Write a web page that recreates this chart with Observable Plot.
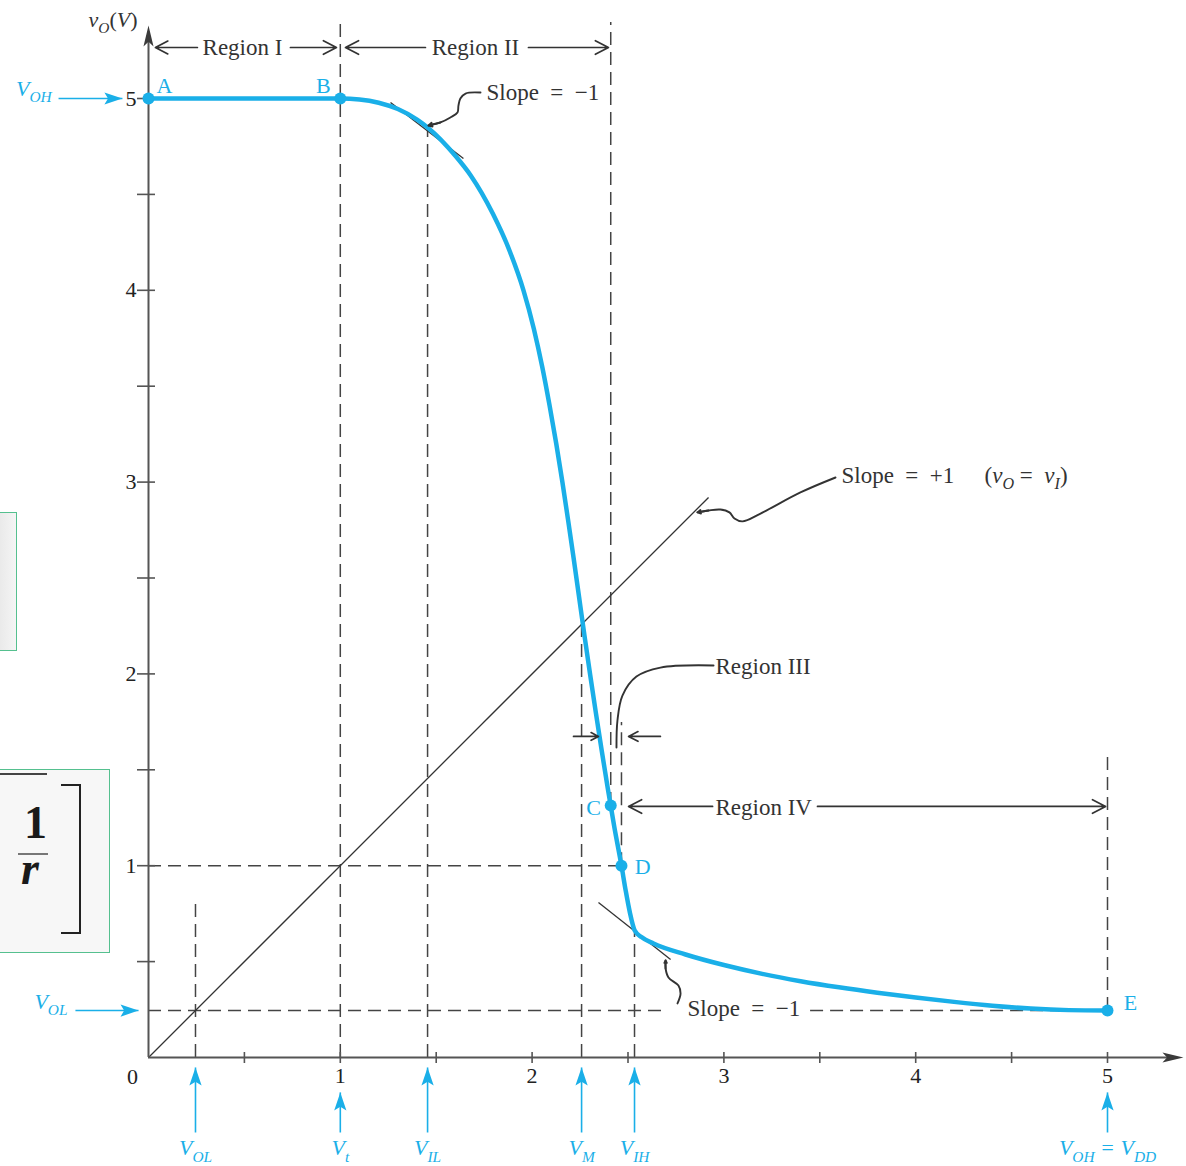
<!DOCTYPE html>
<html><head><meta charset="utf-8">
<script src="https://cdn.jsdelivr.net/npm/d3@7"></script>
<script src="https://cdn.jsdelivr.net/npm/@observablehq/plot@0.6"></script>
<style>
html,body{margin:0;padding:0;background:#fff;}
#wrap{position:relative;width:1186px;height:1166px;overflow:hidden;}
.scrap{position:absolute;border:1.5px solid #55c08f;box-sizing:border-box;}
.scrap div{position:absolute;}
</style></head><body>
<div id="wrap">
  <div id="chart"></div>
  <div class="scrap" style="left:-2px;top:512px;width:19px;height:139px;background:linear-gradient(90deg,#e9e9e9,#f5f5f5);"></div>
  <div class="scrap" style="left:-2px;top:769px;width:112px;height:184px;background:#f7f7f7;">
    <div style="left:0;top:3px;width:48px;height:2px;background:#444"></div>
    <div style="left:25px;top:30px;font:bold 46px/46px 'Liberation Serif';color:#1a1a1a">1</div>
    <div style="left:19px;top:83px;width:30px;height:1.5px;background:#777"></div>
    <div style="left:22px;top:76px;font:italic bold 46px/46px 'Liberation Serif';color:#1a1a1a">r</div>
    <div style="left:62px;top:14px;width:20px;height:150px;border:2.5px solid #222;border-left:none;box-sizing:border-box"></div>
  </div>
</div>
<script>
// ---------- data (volts) ----------
const vI = [0, 1, 1.1, 1.2, 1.3, 1.4, 1.455, 1.601, 1.679, 1.795, 1.885, 1.955, 2.009, 2.053, 2.091, 2.126, 2.158, 2.188, 2.217, 2.245, 2.273, 2.302, 2.332, 2.363, 2.395, 2.429, 2.466, 2.488, 2.51, 2.535, 2.57, 2.633, 2.8, 3.0, 3.2, 3.4, 3.6, 3.8, 4.0, 4.2, 4.4, 4.6, 4.8, 5];
const vO = [5, 5, 4.995, 4.978, 4.945, 4.890, 4.849, 4.7, 4.6, 4.4, 4.2, 4.0, 3.8, 3.6, 3.4, 3.2, 3.0, 2.8, 2.6, 2.4, 2.2, 2.0, 1.8, 1.6, 1.4, 1.2, 1.0, 0.87, 0.755, 0.662, 0.628, 0.594, 0.537, 0.482, 0.436, 0.398, 0.366, 0.338, 0.313, 0.290, 0.270, 0.255, 0.247, 0.245];

const pointNames = ["A", "B", "C", "D", "E"];
const pointVI = [0, 1, 2.41, 2.466, 5];
const pointVO = [5, 5, 1.314, 1, 0.245];
const pointLabelX = [0.083, 0.912, 2.320, 2.576, 5.120];
const pointLabelY = [5.063, 5.063, 1.303, 0.996, 0.282];

const xTicks = [0.5, 1, 1.5, 2, 2.5, 3, 3.5, 4, 4.5, 5];
const yTicks = [0.5, 1, 1.5, 2, 2.5, 3, 3.5, 4, 4.5, 5];

const keyNames = ["V_{OL}", "V_{t}", "V_{IL}", "V_{M}", "V_{IH}", "V_{OH} = V_{DD}"];
const keyValues = [0.245, 1, 1.455, 2.258, 2.534, 5];
const keyTipY = [-0.052, -0.182, -0.052, -0.052, -0.052, -0.182];
const keyTailY = -0.391;
const keyLabelY = -0.474;

const levelNames = ["V_{OH}", "V_{OL}"];
const levelValues = [5, 0.245];
const levelTail = [-0.469, -0.381];
const levelTip = [-0.136, -0.052];
const levelLabelX = [-0.505, -0.422];
const levelLabelY = [5.052, 0.292];

// dashed guides
const guideX = [0.245, 1, 1.455, 2.258, 2.41, 2.466, 2.534, 5];
const guideXFrom = [0, 0, 0, 0, 1.314, 1, 0, 0.245];
const guideXTo = [0.803, 5.396, 4.849, 2.258, 5.396, 1.747, 0.650, 1.590];
const guideY = [1, 0.245, 0.245];
const guideYFrom = [0, 0, 3.452];
const guideYTo = [2.466, 2.706, 4.8];

// thin reference lines: vO = vI and the two slope = -1 tangents
const refX1 = [0, 1.262, 2.346];
const refY1 = [0, 4.979, 0.808];
const refX2 = [2.92, 1.642, 2.722];
const refY2 = [2.92, 4.687, 0.511];

// region arrows
const regionArrowX1 = [0.255, 0.740, 1.444, 1.981, 2.216, 2.669, 2.941, 3.488];
const regionArrowX2 = [0.036, 0.980, 1.027, 2.398, 2.346, 2.503, 2.503, 4.990];
const regionArrowY = [5.266, 5.266, 5.266, 5.266, 1.674, 1.674, 1.309, 1.309];

// annotation texts
const centerNotes = ["Region I", "Region II"];
const centerNoteX = [0.490, 1.705];
const centerNoteY = [5.266, 5.266];
const startNotes = ["Slope\u00A0\u00A0=\u00A0\u00A0\u22121", "Slope\u00A0\u00A0=\u00A0\u00A0+1", "(/{v}_{O}\u00A0=\u00A0\u00A0/{v}_{I})", "Region III", "Region IV", "Slope\u00A0\u00A0=\u00A0\u00A0\u22121"];
const startNoteX = [1.762, 3.613, 4.359, 2.956, 2.956, 2.810];
const startNoteY = [5.031, 3.034, 3.034, 2.039, 1.303, 0.255];

// curly leader lines [vI, vO]
const leaderTop = [[1.731, 5.031], [1.653, 5.026], [1.626, 5.000], [1.616, 4.963], [1.611, 4.927], [1.574, 4.901], [1.522, 4.875], [1.460, 4.859]];
const leaderUnity = [[3.582, 3.024], [3.399, 2.946], [3.191, 2.836], [3.097, 2.795], [3.055, 2.810], [3.029, 2.842], [2.982, 2.857], [2.920, 2.852], [2.862, 2.842]];
const leaderRegion3 = [[2.946, 2.044], [2.669, 2.033], [2.544, 1.986], [2.471, 1.887], [2.445, 1.757], [2.440, 1.616]];
const leaderBottom = [[2.758, 0.282], [2.774, 0.334], [2.763, 0.375], [2.711, 0.417], [2.696, 0.464], [2.696, 0.506]];

const axisEndX = 5.396, axisEndY = 5.381;

// ---------- drawing ----------
const px = 1 / 191.8;
const BLUE = "#1aafe8", INK = "#333333", AXIS = "#555555", DASH = "#444444";
const FONT = "'Liberation Serif', 'Times New Roman', serif";

const headSymbol = (ratio, notch) => ({
  draw(ctx, size) {
    const L = Math.sqrt(size / Math.PI), W = L * ratio;
    ctx.moveTo(0, 0); ctx.lineTo(W, L); ctx.lineTo(0, L * notch); ctx.lineTo(-W, L); ctx.closePath();
  }
});

const curve = vI.map((x, i) => ({x, y: vO[i]}));
const points = pointNames.map((n, i) => ({n, x: pointVI[i], y: pointVO[i], lx: pointLabelX[i], ly: pointLabelY[i]}));
const guidesV = guideX.map((x, i) => ({x, y1: guideXFrom[i], y2: guideXTo[i]}));
const guidesH = guideY.map((y, i) => ({y, x1: guideYFrom[i], x2: guideYTo[i]}));
const refs = refX1.map((x1, i) => ({x1, y1: refY1[i], x2: refX2[i], y2: refY2[i]}));
const regionArrows = regionArrowX1.map((x1, i) => ({x1, x2: regionArrowX2[i], y: regionArrowY[i]}));
const leaders = [leaderTop, leaderUnity, leaderRegion3, leaderBottom]
  .flatMap((L, k) => L.map(([x, y]) => ({k, x, y})));
const leaderHeads = [leaderTop, leaderUnity, leaderBottom].map(L => {
  const a = L[L.length - 2], b = L[L.length - 1];
  return {x1: a[0], y1: a[1], x2: b[0], y2: b[1]};
});
const blueArrows = [
  ...keyValues.map((v, i) => ({x1: v, y1: keyTailY, x2: v, y2: keyTipY[i], rot: 0})),
  ...levelValues.map((v, i) => ({x1: levelTail[i], y1: v, x2: levelTip[i], y2: v, rot: 90}))
];
const axisHeads = [{x: axisEndX, y: 0, rot: 90}, {x: 0, y: axisEndY, rot: 0}];

const chart = Plot.plot({
  width: 1186, height: 1166,
  marginLeft: 148, marginRight: 79, marginTop: 98, marginBottom: 109,
  x: {domain: [0, 5], axis: null},
  y: {domain: [0, 5], axis: null},
  style: {fontFamily: FONT, background: "white", overflow: "visible"},
  marks: [
    Plot.ruleX(guidesV, {x: "x", y1: "y1", y2: "y2", stroke: DASH, strokeWidth: 1.5, strokeDasharray: "13,7"}),
    Plot.ruleY(guidesH, {y: "y", x1: "x1", x2: "x2", stroke: DASH, strokeWidth: 1.5, strokeDasharray: "13,7"}),
    Plot.link(refs, {x1: "x1", y1: "y1", x2: "x2", y2: "y2", stroke: INK, strokeWidth: 1.3}),
    // axes
    Plot.ruleY([0], {x1: 0, x2: axisEndX - 15 * px, stroke: AXIS, strokeWidth: 2}),
    Plot.ruleX([0], {y1: 0, y2: axisEndY - 15 * px, stroke: AXIS, strokeWidth: 2}),
    Plot.dot(axisHeads, {x: "x", y: "y", rotate: "rot", r: 21, symbol: headSymbol(0.24, 0.78), fill: "#3a3a3a"}),
    Plot.axisX({ticks: xTicks, anchor: "bottom", tickSize: 6, tickPadding: 4, label: null,
      tickFormat: d => Number.isInteger(d) ? String(d) : "", fontSize: 22, stroke: AXIS, strokeWidth: 1.6, fill: "#222"}),
    Plot.ruleX(xTicks, {x: d => d, y1: 0, y2: 5 * px, stroke: AXIS, strokeWidth: 1.6}),
    Plot.axisY({ticks: yTicks, anchor: "left", tickSize: 11, tickPadding: 1, label: null,
      tickFormat: d => Number.isInteger(d) ? String(d) : "", fontSize: 22, stroke: AXIS, strokeWidth: 1.6, fill: "#222"}),
    Plot.ruleY(yTicks, {y: d => d, x1: 0, x2: 7 * px, stroke: AXIS, strokeWidth: 1.6}),
    Plot.text(["0"], {x: 0, y: 0, dx: -16, dy: 19, text: d => d, fontSize: 22, fill: "#222"}),
    Plot.text(["/{v}_{O}(/{V})"], {x: -0.057, y: 5.412, text: d => d, textAnchor: "end", fontSize: 22, fill: "#333"}),
    // transfer curve
    Plot.line(curve, {x: "x", y: "y", curve: "monotone-x", stroke: BLUE, strokeWidth: 4.5}),
    Plot.dot(points, {x: "x", y: "y", r: 6, fill: BLUE}),
    Plot.text(points, {x: "lx", y: "ly", text: "n", fontSize: 22, fill: BLUE}),
    // region arrows and notes
    Plot.arrow(regionArrows, {x1: "x1", x2: "x2", y1: "y", y2: "y", stroke: INK, strokeWidth: 1.7, headLength: 13, headAngle: 55}),
    Plot.text(centerNotes.map((t, i) => ({t, x: centerNoteX[i], y: centerNoteY[i]})), {x: "x", y: "y", text: "t", fontSize: 23, fill: INK}),
    Plot.text(startNotes.map((t, i) => ({t, x: startNoteX[i], y: startNoteY[i]})), {x: "x", y: "y", text: "t", textAnchor: "start", fontSize: 23, fill: INK}),
    Plot.line(leaders, {x: "x", y: "y", z: "k", curve: "catmull-rom", stroke: INK, strokeWidth: 1.9}),
    Plot.arrow(leaderHeads, {x1: "x1", y1: "y1", x2: "x2", y2: "y2", stroke: INK, strokeWidth: 1.9, headLength: 12, headAngle: 55}),
    // blue markers
    Plot.link(blueArrows, {x1: "x1", y1: "y1", x2: "x2", y2: "y2", stroke: BLUE, strokeWidth: 1.6}),
    Plot.dot(blueArrows, {x: "x2", y: "y2", rotate: "rot", r: 18, symbol: headSymbol(0.34, 0.8), fill: BLUE}),
    Plot.text(keyNames.map((t, i) => ({t, x: keyValues[i]})), {x: "x", y: keyLabelY, text: "t", fontSize: 22, fontStyle: "italic", fill: BLUE}),
    Plot.text(levelNames.map((t, i) => ({t, x: levelLabelX[i], y: levelLabelY[i]})), {x: "x", y: "y", text: "t", textAnchor: "end", fontSize: 22, fontStyle: "italic", fill: BLUE})
  ]
});

document.getElementById("chart").append(chart);

// subscript / italic markup: _{..} subscript, /{..} italic
const NS = "http://www.w3.org/2000/svg";
d3.select(chart).selectAll("text").each(function () {
  const t = this.textContent;
  if (!/_\{|\/\{/.test(t)) return;
  const fs = parseFloat(getComputedStyle(this).fontSize) || 22;
  const parts = t.split(/(_\{[^}]*\}|\/\{[^}]*\})/).filter(p => p !== "");
  this.textContent = "";
  let shifted = false, lastItalic = false;
  const shift = fs * 0.28;
  for (const p of parts) {
    const ts = document.createElementNS(NS, "tspan");
    if (p.startsWith("_{")) {
      ts.textContent = p.slice(2, -1);
      ts.setAttribute("font-size", (fs * 0.7).toFixed(1));
      if (lastItalic) ts.setAttribute("font-style", "italic");
      if (!shifted) ts.setAttribute("dy", shift.toFixed(1));
      shifted = true;
    } else {
      if (p.startsWith("/{")) { ts.textContent = p.slice(2, -1); ts.setAttribute("font-style", "italic"); lastItalic = true; }
      else { ts.textContent = p; lastItalic = false; }
      if (shifted) { ts.setAttribute("dy", (-shift).toFixed(1)); shifted = false; }
    }
    this.appendChild(ts);
  }
});
</script>
</body></html>
